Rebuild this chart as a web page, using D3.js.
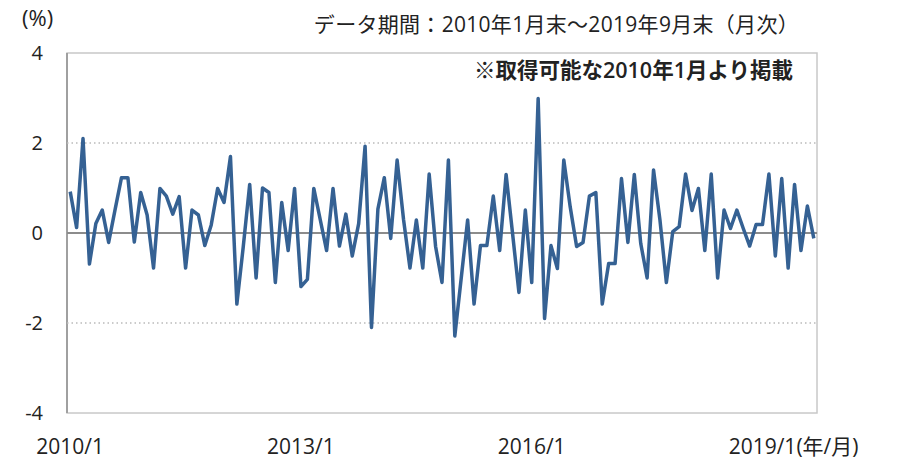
<!DOCTYPE html>
<html>
<head>
<meta charset="utf-8">
<script src="https://cdn.jsdelivr.net/npm/d3@7.9.0/dist/d3.min.js"></script>
<style>
  body { margin: 0; background: #fff; }
  svg text { font-family: "Open Sans", "Noto Sans CJK JP", sans-serif; fill: #222; }
</style>
</head>
<body>
<script>
// Monthly returns (%), 2010/1 .. 2019/9
const startYear = 2010;
const values = [
  0.92, 0.12, 2.10, -0.69, 0.21, 0.51, -0.21, 0.52, 1.23, 1.23,
  -0.20, 0.90, 0.40, -0.78, 0.99, 0.82, 0.42, 0.81, -0.78, 0.51,
  0.40, -0.28, 0.18, 0.99, 0.68, 1.70, -1.58, -0.30, 1.08, -1.00,
  1.00, 0.90, -1.10, 0.68, -0.39, 0.99, -1.19, -1.03, 0.99, 0.30,
  -0.39, 0.99, -0.29, 0.42, -0.51, 0.21, 1.93, -2.10, 0.53, 1.23,
  -0.12, 1.62, 0.30, -0.78, 0.29, -0.78, 1.31, -0.30, -1.10, 1.62,
  -2.29, -1.00, 0.29, -1.58, -0.28, -0.28, 0.82, -0.39, 1.30, 0.00,
  -1.32, 0.51, -1.10, 2.99, -1.90, -0.28, -0.79, 1.62, 0.58, -0.30,
  -0.21, 0.82, 0.90, -1.58, -0.68, -0.68, 1.21, -0.21, 1.30, -0.23,
  -1.00, 1.40, 0.29, -1.10, 0.03, 0.14, 1.31, 0.50, 0.99, -0.39,
  1.31, -1.00, 0.51, 0.10, 0.51, 0.10, -0.29, 0.19, 0.19, 1.31,
  -0.51, 1.21, -0.78, 1.08, -0.39, 0.60, -0.12
];
const months = values.map((v, i) => `${startYear + Math.floor(i / 12)}/${(i % 12) + 1}`);
const xTickLabels = ["2010/1", "2013/1", "2016/1", "2019/1"];
const yTicks = [4, 2, 0, -2, -4];
const gridValues = [2, -2];

const width = 897, height = 463;
const margin = { top: 53, right: 80, bottom: 50, left: 67 };

const svg = d3.select("body").append("svg")
  .attr("width", width)
  .attr("height", height);

// x: one slot per month, points at slot centres
const x = d3.scalePoint()
  .domain(months)
  .range([margin.left, width - margin.right])
  .padding(0.5);

const y = d3.scaleLinear()
  .domain([-4, 4])
  .range([height - margin.bottom, margin.top]);

// Plot frame
svg.append("rect")
  .attr("x", margin.left)
  .attr("y", margin.top)
  .attr("width", width - margin.left - margin.right)
  .attr("height", height - margin.top - margin.bottom)
  .attr("fill", "none")
  .attr("stroke", "#c8c8c8")
  .attr("stroke-width", 1.5);

svg.append("line")
  .attr("x1", margin.left).attr("x2", margin.left)
  .attr("y1", margin.top).attr("y2", height - margin.bottom)
  .attr("stroke", "#a0a0a0")
  .attr("stroke-width", 2);

// Dotted gridlines
svg.selectAll(".grid")
  .data(gridValues)
  .enter().append("line")
  .attr("class", "grid")
  .attr("x1", margin.left).attr("x2", width - margin.right)
  .attr("y1", d => y(d)).attr("y2", d => y(d))
  .attr("stroke", "#bbbbbb")
  .attr("stroke-width", 1.5)
  .attr("stroke-dasharray", "1.5 3");

// Zero line
svg.append("line")
  .attr("x1", margin.left).attr("x2", width - margin.right)
  .attr("y1", y(0)).attr("y2", y(0))
  .attr("stroke", "#8c8c8c")
  .attr("stroke-width", 2);

// Y tick labels
svg.selectAll(".ytick")
  .data(yTicks)
  .enter().append("text")
  .attr("class", "ytick")
  .attr("x", 43)
  .attr("y", d => y(d))
  .attr("dy", "0.35em")
  .attr("text-anchor", "end")
  .style("font-size", "20px")
  .text(d => d);

// X tick labels
svg.selectAll(".xtick")
  .data(xTickLabels)
  .enter().append("text")
  .attr("class", "xtick")
  .attr("x", d => x(d))
  .attr("y", 447)
  .attr("dy", "0.35em")
  .attr("text-anchor", "middle")
  .style("font-size", "21px")
  .text(d => d);

// unit label sits right after the last tick label
const lastTick = svg.selectAll(".xtick").filter(d => d === "2019/1").node();
const lastRight = x("2019/1") + lastTick.getComputedTextLength() / 2;
svg.append("text")
  .attr("x", lastRight)
  .attr("y", 447)
  .attr("dy", "0.35em")
  .style("font-size", "21px")
  .text("(年/月)");

// Unit, period and note
svg.append("text")
  .attr("x", 22).attr("y", 18)
  .attr("dy", "0.35em")
  .style("font-size", "22px")
  .text("(%)");

svg.append("text")
  .attr("x", 799).attr("y", 25)
  .attr("dy", "0.35em")
  .attr("text-anchor", "end")
  .style("font-size", "21px")
  .style("letter-spacing", "0.3px")
  .text("データ期間：2010年1月末～2019年9月末（月次）");

svg.append("text")
  .attr("x", 793).attr("y", 70)
  .attr("dy", "0.35em")
  .attr("text-anchor", "end")
  .style("font-size", "21.5px")
  .style("font-weight", "600")
  .text("※取得可能な2010年1月より掲載");

// Series line
const line = d3.line()
  .x((d, i) => x(months[i]))
  .y(d => y(d));

svg.append("path")
  .datum(values)
  .attr("fill", "none")
  .attr("stroke", "#356193")
  .attr("stroke-width", 3.5)
  .attr("stroke-linejoin", "round")
  .attr("d", line);
</script>
</body>
</html>
